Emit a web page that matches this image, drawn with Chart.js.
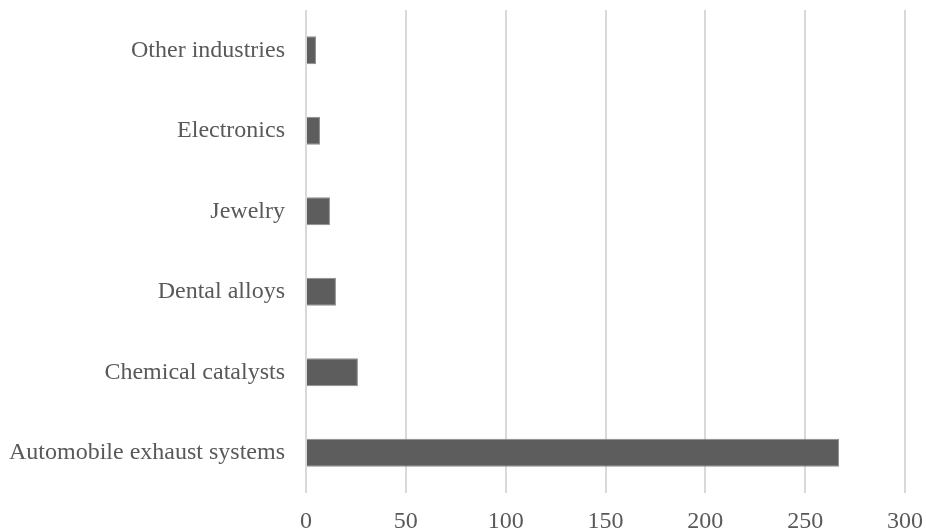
<!DOCTYPE html>
<html>
<head>
<meta charset="utf-8">
<script src="https://cdn.jsdelivr.net/npm/chart.js@4"></script>
<style>
  html, body { margin: 0; padding: 0; background: #fff; overflow: hidden; }
  #wrap { width: 926px; height: 530px; }
</style>
</head>
<body>
<div id="wrap"><canvas id="myChart"></canvas></div>
<script>
const industries = ['Other industries', 'Electronics', 'Jewelry', 'Dental alloys', 'Chemical catalysts', 'Automobile exhaust systems'];
const demand = [5, 7, 12, 15, 26, 267];
const xTicks = [0, 50, 100, 150, 200, 250, 300];

const textColor = '#595959';
const fontFamily = "'Liberation Serif', 'Times New Roman', serif";

var ctx = document.getElementById('myChart').getContext('2d');
new Chart(ctx, {
    type: 'bar',
    data: {
        labels: industries,
        datasets: [{
            data: demand,
            backgroundColor: '#5d5d5d',
            borderColor: '#8f8f8f',
            borderWidth: 1,
            categoryPercentage: 0.7,
            barPercentage: 0.5
        }]
    },
    options: {
        indexAxis: 'y',
        responsive: true,
        maintainAspectRatio: false,
        animation: false,
        layout: { padding: { top: 10, right: 21, left: 0, bottom: 0 } },
        plugins: {
            legend: { display: false },
            tooltip: { enabled: false }
        },
        scales: {
            x: {
                min: 0,
                max: 300,
                afterBuildTicks: (scale) => {
                    scale.ticks = xTicks.map(v => ({ value: v }));
                },
                afterFit: (scale) => {
                    scale.height = 37;
                    scale.paddingLeft = 0;
                    scale.paddingRight = 0;
                },
                grid: { color: '#d9d9d9', lineWidth: 2, drawTicks: false },
                border: { display: false },
                ticks: {
                    color: textColor,
                    padding: 14,
                    font: { family: fontFamily, size: 24 }
                }
            },
            y: {
                afterFit: (scale) => {
                    scale.width = 306;
                    scale.paddingTop = 0;
                    scale.paddingBottom = 0;
                },
                grid: { display: false, drawTicks: false },
                border: { display: false },
                ticks: {
                    color: textColor,
                    padding: 21,
                    font: { family: fontFamily, size: 24 }
                }
            }
        }
    }
});
</script>
</body>
</html>
